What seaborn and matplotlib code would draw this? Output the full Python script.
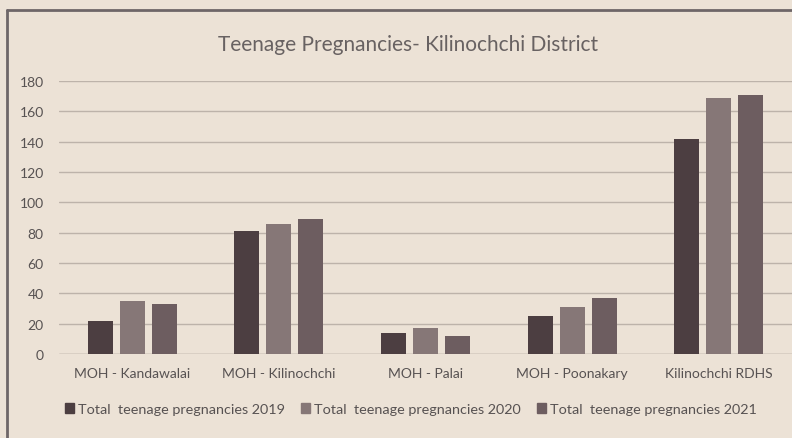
import matplotlib
matplotlib.use('Agg')
import matplotlib.pyplot as plt
import seaborn as sns
import pandas as pd

# Значения
areas = ['MOH - Kandawalai', 'MOH - Kilinochchi', 'MOH - Palai', 'MOH - Poonakary', 'Kilinochchi RDHS']
preg_2019 = [22, 81, 14, 25, 142]
preg_2020 = [35, 86, 17, 31, 169]
preg_2021 = [33, 89, 12, 37, 171]
series_names = ['Total  teenage pregnancies 2019', 'Total  teenage pregnancies 2020', 'Total  teenage pregnancies 2021']
y_ticks = [0, 20, 40, 60, 80, 100, 120, 140, 160, 180]

paper = '#ece2d6'
text_col = '#575252'
colors = ['#4c3e41', '#867777', '#6d5d60']

df = pd.DataFrame({'Area': areas * 3,
                   'Count': preg_2019 + preg_2020 + preg_2021,
                   'Series': [series_names[0]] * 5 + [series_names[1]] * 5 + [series_names[2]] * 5})

sns.set_theme(style='white')
plt.rcParams['font.family'] = ['Lato', 'DejaVu Sans']

fig = plt.figure(figsize=(7.92, 4.39), dpi=100, facecolor=paper)
ax = fig.add_axes([0.0745, 0.1913, 0.9255, 0.6219])
ax.set_facecolor(paper)

sns.barplot(data=df, x='Area', y='Count', hue='Series', palette=colors,
            width=0.655, gap=0.22, ax=ax, legend=False, saturation=1, linewidth=0)

ax.set_ylim(0, 180)
ax.set_yticks(y_ticks)
ax.set_xlim(-0.5, 4.5)
ax.yaxis.grid(True, color='#bdb3aa', linewidth=1)
ax.set_axisbelow(True)
for s in ax.spines.values():
    s.set_visible(False)
ax.axhline(0, color='#b5aba2', linewidth=1, zorder=0)
ax.tick_params(axis='both', length=0, labelsize=10, colors=text_col)
ax.tick_params(axis='y', pad=11)
ax.tick_params(axis='x', pad=9)
ax.set_xlabel('')
ax.set_ylabel('')

fig.text(0.515, 0.8975, 'Teenage Pregnancies- Kilinochchi District', ha='center', va='center',
         fontsize=15, color='#686262')

handles = [plt.Rectangle((0, 0), 1, 1, color=c) for c in colors]
fig.legend(handles, series_names, loc='center', bbox_to_anchor=(0.519, 0.066), ncol=3,
           frameon=False, handlelength=0.6, handleheight=0.6, handletextpad=0.3,
           columnspacing=1.1, fontsize=10.4, labelcolor=text_col)

# рамка газетной вырезки
fig.add_artist(plt.Line2D([7 / 792, 7 / 792], [0, 1 - 11 / 439], transform=fig.transFigure, color='#6e6668', linewidth=2))
fig.add_artist(plt.Line2D([7 / 792, 1], [1 - 11 / 439, 1 - 11 / 439], transform=fig.transFigure, color='#6e6668', linewidth=2))

fig.savefig('out.png', dpi=100, facecolor=paper)
